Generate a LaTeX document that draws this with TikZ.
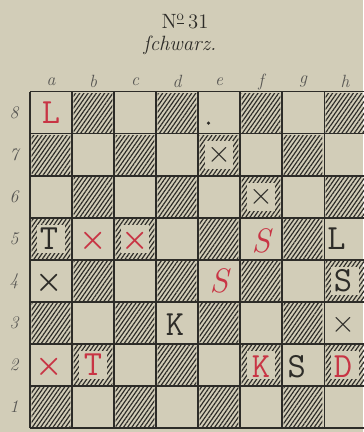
\documentclass[tikz,border=0pt]{standalone}
\usepackage{amsmath}
\usetikzlibrary{patterns.meta}
\definecolor{paper}{RGB}{210,205,184}
\definecolor{ink}{RGB}{45,44,40}
\definecolor{redink}{RGB}{200,52,68}

\begin{document}
\begin{tikzpicture}[x=1cm,y=1cm,line width=0.7pt,
  hatch/.style={pattern={Lines[angle=55,distance=2.3pt,line width=0.8pt]},pattern color=ink},
  piece/.style={font=\ttfamily\fontsize{24}{24}\selectfont,text=ink},
  redpiece/.style={piece,text=redink},
  redslant/.style={redpiece,font=\rmfamily\itshape\fontsize{23}{23}\selectfont},
  cross/.style={font=\fontsize{20}{20}\selectfont,text=ink},
  redcross/.style={cross,text=redink},
  label/.style={font=\itshape\fontsize{12}{12}\selectfont,text=ink!80}]
  \fill[paper] (-0.714,-0.095) rectangle (7.93,10.19);
  \useasboundingbox (-0.714,-0.095) rectangle (7.93,10.19);
  % hatched squares
  \foreach \c in {0,...,7}
    \foreach \r in {0,...,7}{
      \pgfmathtruncatemacro{\odd}{mod(\c+\r,2)}
      \ifnum\odd=0 \path[hatch] (\c+0.04,\r+0.04) rectangle (\c+0.96,\r+0.96); \fi
    }
  % clear patches round the pieces on hatched squares
  \foreach \c/\r in {0/4,2/4,4/6,5/5,7/3,1/1,5/1,7/1}
    \fill[paper] (\c+0.17,\r+0.17) rectangle (\c+0.83,\r+0.83);
  % board lines
  \foreach \i in {0,...,8}{
    \draw[ink] (\i,0) -- (\i,8);
    \draw[ink] (0,\i) -- (8,\i);
  }
  \foreach \l [count=\i] in {a,b,c,d,e,f,g,h}
    \node[label] (col\l) at (\i-0.5,8.24) {\l};
  \foreach \r in {1,...,8}
    \node[label] (row\r) at (-0.38,\r-0.5) {\r};
  \node[font=\fontsize{14}{14}\selectfont,text=ink] (num) at (3.69,9.67) {N\textsuperscript{\underline{o}}\,31};
  \node[font=\itshape\fontsize{14}{14}\selectfont,text=ink] (side) at (3.57,9.12) {ſchwarz.};
  % pieces
  \node[redpiece] (a8) at (0.5,7.5) {L};
  \fill[ink] (4.25,7.26) circle (1.2pt);
  \node[cross] (e7) at (4.5,6.5) {$\times$};
  \node[cross] (f6) at (5.5,5.5) {$\times$};
  \node[piece] (a5) at (0.45,4.5) {T};
  \node[redcross] (b5) at (1.5,4.45) {$\boldsymbol{\times}$};
  \node[redcross] (c5) at (2.5,4.45) {$\boldsymbol{\times}$};
  \node[redslant] (f5) at (5.5,4.45) {S};
  \node[piece] (h5) at (7.3,4.5) {L};
  \node[cross] (a4) at (0.45,3.45) {$\boldsymbol{\times}$};
  \node[redslant] (e4) at (4.5,3.5) {S};
  \node[piece] (h4) at (7.45,3.5) {S};
  \node[piece] (d3) at (3.45,2.45) {K};
  \node[cross] (h3) at (7.45,2.45) {$\times$};
  \node[redcross] (a2) at (0.45,1.45) {$\boldsymbol{\times}$};
  \node[redpiece] (b2) at (1.5,1.5) {T};
  \node[redpiece] (f2) at (5.5,1.45) {K};
  \node[piece] (g2) at (6.35,1.45) {S};
  \node[redpiece] (h2) at (7.45,1.45) {D};
\end{tikzpicture}
\end{document}
